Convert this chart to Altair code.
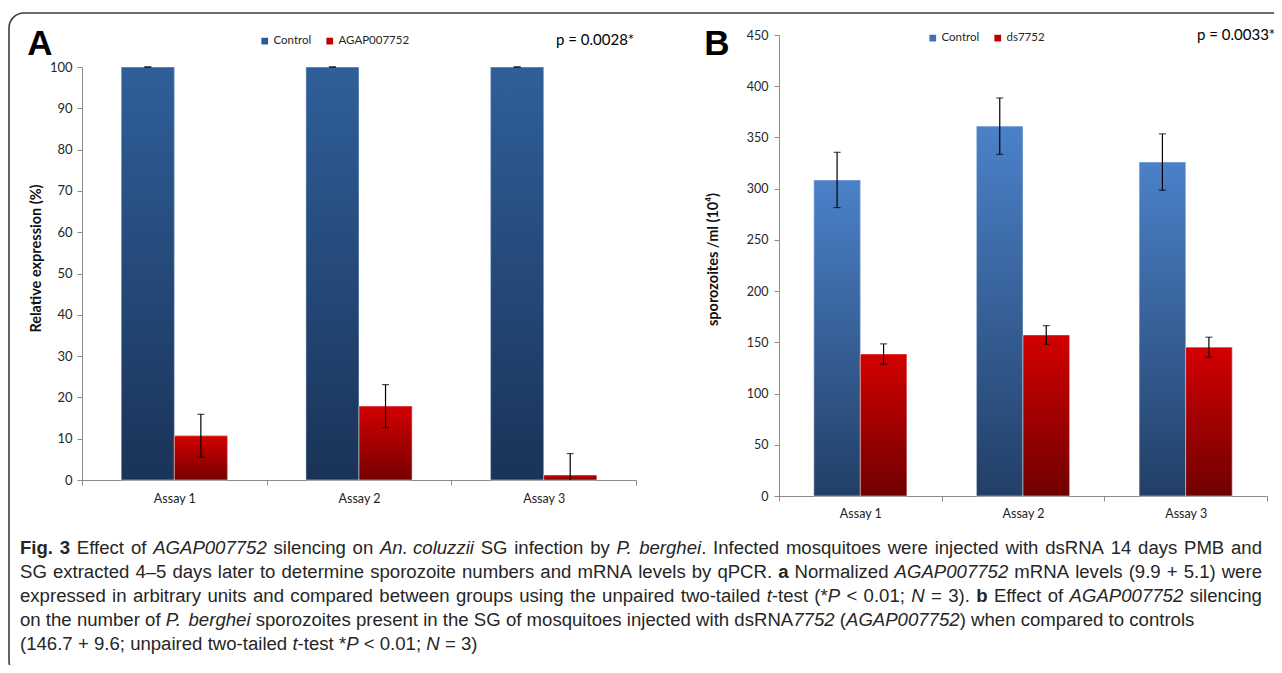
import altair as alt
import pandas as pd

# ---------------- data ----------------
assays = ["Assay 1", "Assay 2", "Assay 3"]

groups_a = ["Control", "AGAP007752"]
a_control = [100.0, 100.0, 100.0]
a_control_err = [0.0, 0.0, 0.0]
a_treated = [10.7, 17.9, 1.2]
a_treated_err = [5.2, 5.2, 5.2]

groups_b = ["Control", "ds7752"]
b_control = [308.5, 361.0, 326.0]
b_control_err = [27.0, 27.5, 27.5]
b_treated = [138.6, 157.2, 145.2]
b_treated_err = [9.9, 9.1, 9.8]

ticks_a = list(range(0, 101, 10))
ticks_b = list(range(0, 451, 50))

ytitle_a = "Relative expression (%)"
ytitle_b = "sporozoites /ml (10\u2074)"
ptext_a = "p = 0.0028*"
ptext_b = "p = 0.0033*"

caption_lines = [
    [("Fig. 3", "b"), (" Effect of ", "n"), ("AGAP007752", "i"), (" silencing on ", "n"),
     ("An. coluzzii", "i"), (" SG infection by ", "n"), ("P. berghei", "i"),
     (". Infected mosquitoes were injected with dsRNA 14 days PMB and", "n")],
    [("SG extracted 4\u20135 days later to determine sporozoite numbers and mRNA levels by qPCR. ", "n"),
     ("a", "b"), (" Normalized ", "n"), ("AGAP007752", "i"), (" mRNA levels (9.9 + 5.1) were", "n")],
    [("expressed in arbitrary units and compared between groups using the unpaired two-tailed ", "n"),
     ("t", "i"), ("-test (*", "n"), ("P", "i"), (" < 0.01; ", "n"), ("N", "i"), (" = 3). ", "n"),
     ("b", "b"), (" Effect of ", "n"), ("AGAP007752", "i"), (" silencing", "n")],
    [("on the number of ", "n"), ("P. berghei", "i"),
     (" sporozoites present in the SG of mosquitoes injected with dsRNA", "n"), ("7752", "i"),
     (" (", "n"), ("AGAP007752", "i"), (") when compared to controls", "n")],
    [("(146.7 + 9.6; unpaired two-tailed ", "n"), ("t", "i"), ("-test *", "n"), ("P", "i"),
     (" < 0.01; ", "n"), ("N", "i"), (" = 3)", "n")],
]


def frame(groups, ctrl, ctrl_err, trt, trt_err):
    rows = []
    for g, vals, errs in [(groups[0], ctrl, ctrl_err), (groups[1], trt, trt_err)]:
        for a, v, e in zip(assays, vals, errs):
            rows.append(dict(assay=a, group=g, value=v, err=e, hi=v + e,
                             lo=max(0.0, v - e), lo_raw=v - e))
    return pd.DataFrame(rows)


df_a = frame(groups_a, a_control, a_control_err, a_treated, a_treated_err)
df_b = frame(groups_b, b_control, b_control_err, b_treated, b_treated_err)

W_TOTAL, H_TOTAL = 1266, 657
LABEL_FONT = "Lato"
AXIS_GREY = "#8c8c8c"


def grad(top, bottom):
    return alt.LinearGradient(
        gradient="linear",
        stops=[alt.GradientStop(color=top, offset=0), alt.GradientStop(color=bottom, offset=1)],
        x1=0, x2=0, y1=0, y2=1,
    )


def panel(df, groups, solid, grads, xr, yr, ydom, yticks, ytitle, title_xy,
          legend_xy, ylab_size, xlab_size, xlab_pad, ylab_pad, xo_pad):
    xenc = alt.X(
        "assay:N", sort=assays,
        scale=alt.Scale(domain=assays, range=xr, paddingInner=0, paddingOuter=0),
        axis=alt.Axis(orient="bottom", offset=yr[0] - H_TOTAL, title=None, labelAngle=0,
                      tickBand="extent", domainColor=AXIS_GREY, tickColor=AXIS_GREY,
                      tickSize=5, labelFont=LABEL_FONT, labelFontSize=xlab_size,
                      labelColor="#1e1e1e", labelPadding=xlab_pad, grid=False),
    )
    xo = alt.XOffset("group:N", sort=groups,
                     scale=alt.Scale(domain=groups, paddingInner=0, paddingOuter=xo_pad))

    def yenc(field):
        return alt.Y(
            f"{field}:Q",
            scale=alt.Scale(domain=ydom, range=yr, nice=False, zero=False),
            axis=alt.Axis(orient="left", offset=-xr[0], values=yticks, title=ytitle,
                          grid=False, domainColor=AXIS_GREY, tickColor=AXIS_GREY, tickSize=5,
                          labelFont=LABEL_FONT, labelFontSize=ylab_size, labelColor="#262626",
                          labelPadding=ylab_pad, titleFont=LABEL_FONT, titleFontSize=14.5,
                          titleFontWeight="bold", titleColor="#111111", titleAngle=270,
                          titleAlign="center", titleBaseline="middle",
                          titleX=title_xy[0], titleY=title_xy[1]),
        )

    base = alt.Chart(df)
    solid_layer = base.mark_bar().encode(
        x=xenc, xOffset=xo, y=yenc("value"),
        color=alt.Color("group:N", sort=groups,
                        scale=alt.Scale(domain=groups, range=solid),
                        legend=alt.Legend(orient="none", legendX=legend_xy[0],
                                          legendY=legend_xy[1], direction="horizontal",
                                          title=None, symbolType="square", symbolSize=45,
                                          symbolStrokeWidth=0, labelFont=LABEL_FONT,
                                          labelFontSize=11.5, labelColor="#262626",
                                          columnPadding=12, labelOffset=3)),
    )
    grad_layers = [
        base.transform_filter(alt.datum.group == g).mark_bar(
            fill=gr, stroke="#ffffff", strokeOpacity=0.45, strokeWidth=1
        ).encode(x=xenc, xOffset=xo, y=yenc("value"))
        for g, gr in zip(groups, grads)
    ]
    rule = base.mark_rule(color="black", strokeWidth=1.2).encode(
        x=xenc, xOffset=xo, y=yenc("lo"), y2="hi:Q")
    cap_hi = base.mark_tick(orient="horizontal", size=7, thickness=1.2, color="black").encode(
        x=xenc, xOffset=xo, y=yenc("hi"))
    cap_lo = base.transform_filter("datum.lo_raw >= 0").mark_tick(
        orient="horizontal", size=7, thickness=1.2, color="black").encode(
        x=xenc, xOffset=xo, y=yenc("lo"))
    return alt.layer(solid_layer, *grad_layers, rule, cap_hi, cap_lo)


panel_a = panel(
    df_a, groups_a, ["#2D5A92", "#C00000"],
    [grad("#2F5F9A", "#1A3358"), grad("#D30000", "#760000")],
    xr=[74, 628], yr=[472, 59], ydom=[0, 100], yticks=ticks_a, ytitle=ytitle_a,
    title_xy=(-46, 250), legend_xy=(251, 27), ylab_size=13, xlab_size=12.5,
    xlab_pad=7, ylab_pad=5, xo_pad=0.74,
)
panel_b = panel(
    df_b, groups_b, ["#3F72B5", "#C00000"],
    [grad("#4B81C9", "#223F66"), grad("#D30000", "#700000")],
    xr=[771, 1259], yr=[488, 27], ydom=[0, 450], yticks=ticks_b, ytitle=ytitle_b,
    title_xy=(-66, 251), legend_xy=(919, 24), ylab_size=12.5, xlab_size=12.5,
    xlab_pad=6, ylab_pad=6, xo_pad=0.75,
)

# ---------------- annotations ----------------
one = pd.DataFrame({"k": [0]})
letter_a = alt.Chart(pd.DataFrame({"t": ["A"]})).mark_text(
    font="Liberation Sans", fontWeight="bold", fontSize=35, align="center", baseline="middle",
    color="black").encode(text="t:N", x=alt.value(32), y=alt.value(36))
letter_b = alt.Chart(pd.DataFrame({"t": ["B"]})).mark_text(
    font="Liberation Sans", fontWeight="bold", fontSize=35, align="center", baseline="middle",
    color="black").encode(text="t:N", x=alt.value(709), y=alt.value(36))
p_a = alt.Chart(pd.DataFrame({"t": [ptext_a]})).mark_text(
    font=LABEL_FONT, fontSize=15, align="left", baseline="middle", color="black").encode(
    text="t:N", x=alt.value(548), y=alt.value(32))
p_b = alt.Chart(pd.DataFrame({"t": [ptext_b]})).mark_text(
    font=LABEL_FONT, fontSize=15, align="left", baseline="middle", color="black").encode(
    text="t:N", x=alt.value(1189), y=alt.value(27))
border = alt.Chart(one).mark_rect(
    fillOpacity=0, stroke="#3c3c3c", strokeWidth=1.6, cornerRadius=15).encode(
    x=alt.value(1), x2=alt.value(1320), y=alt.value(5), y2=alt.value(668))

# ---------------- caption (Arial / Liberation Sans metrics) ----------------
REG = {' ': 278, '!': 278, '"': 355, '#': 556, '$': 556, '%': 889, '&': 667, "'": 191,
       '(': 333, ')': 333, '*': 389, '+': 584, ',': 278, '-': 333, '.': 278, '/': 278,
       ':': 278, ';': 278, '<': 584, '=': 584, '>': 584, '?': 556, '\u2013': 556,
       'A': 667, 'B': 667, 'C': 722, 'D': 722, 'E': 667, 'F': 611, 'G': 778, 'H': 722,
       'I': 278, 'J': 500, 'K': 667, 'L': 556, 'M': 833, 'N': 722, 'O': 778, 'P': 667,
       'Q': 778, 'R': 722, 'S': 667, 'T': 611, 'U': 722, 'V': 667, 'W': 944, 'X': 667,
       'Y': 667, 'Z': 611, 'a': 556, 'b': 556, 'c': 500, 'd': 556, 'e': 556, 'f': 278,
       'g': 556, 'h': 556, 'i': 222, 'j': 222, 'k': 500, 'l': 222, 'm': 833, 'n': 556,
       'o': 556, 'p': 556, 'q': 556, 'r': 333, 's': 500, 't': 278, 'u': 556, 'v': 500,
       'w': 722, 'x': 500, 'y': 500, 'z': 500}
for d in "0123456789":
    REG[d] = 556
BOLD = dict(REG)
BOLD.update({'F': 611, 'i': 278, 'g': 611, 'a': 556, 'b': 611})
CAP_FONT = "Liberation Sans"


def units(s, st):
    tab = BOLD if st == "b" else REG
    return sum(tab.get(c, 556) for c in s)


CAP_X0, CAP_X1 = 12, 1254
CAP_Y0, CAP_DY = 540, 24
max_units = max(sum(units(t, s) for t, s in ln) for ln in caption_lines[:3])
CAP_FS = 0.985 * (CAP_X1 - CAP_X0) * 1000 / max_units

pieces = []
for li, ln in enumerate(caption_lines):
    y = CAP_Y0 + li * CAP_DY
    nat = sum(units(t, s) for t, s in ln) * CAP_FS / 1000
    # stretch only word gaps outside italic names
    nsp = sum(t.count(" ") for t, s in ln if s != "i")
    extra = (CAP_X1 - CAP_X0 - nat) / nsp if (li < 3 and nsp) else 0.0
    x = CAP_X0
    for t, st in ln:
        buf = ""
        for ch in t:
            if ch == " ":
                if buf:
                    pieces.append(dict(text=buf, style=st, x=x, y=y))
                    x += units(buf, st) * CAP_FS / 1000
                    buf = ""
                x += units(" ", st) * CAP_FS / 1000 + (extra if st != "i" else 0.0)
            else:
                buf += ch
        if buf:
            pieces.append(dict(text=buf, style=st, x=x, y=y))
            x += units(buf, st) * CAP_FS / 1000
cap_df = pd.DataFrame(pieces)


def cap_layer(st, **kw):
    return alt.Chart(cap_df).transform_filter(alt.datum.style == st).mark_text(
        font=CAP_FONT, fontSize=CAP_FS, align="left", baseline="middle",
        color="#262626", **kw).encode(
        x=alt.X("x:Q", scale=None, axis=None), y=alt.Y("y:Q", scale=None, axis=None),
        text="text:N")


cap_n = cap_layer("n")
cap_i = cap_layer("i", fontStyle="italic")
cap_b = cap_layer("b", fontWeight="bold")

chart = alt.layer(
    border, panel_a, panel_b, letter_a, letter_b, p_a, p_b, cap_n, cap_i, cap_b
).resolve_scale(
    x="independent", y="independent", color="independent", xOffset="independent"
).resolve_axis(
    x="independent", y="independent"
).resolve_legend(
    color="independent"
).properties(
    width=W_TOTAL, height=H_TOTAL, autosize=alt.AutoSizeParams(type="none"), padding=0
).configure_view(stroke=None)

chart.save("out.html", embed_options={"renderer": "svg", "actions": False})
